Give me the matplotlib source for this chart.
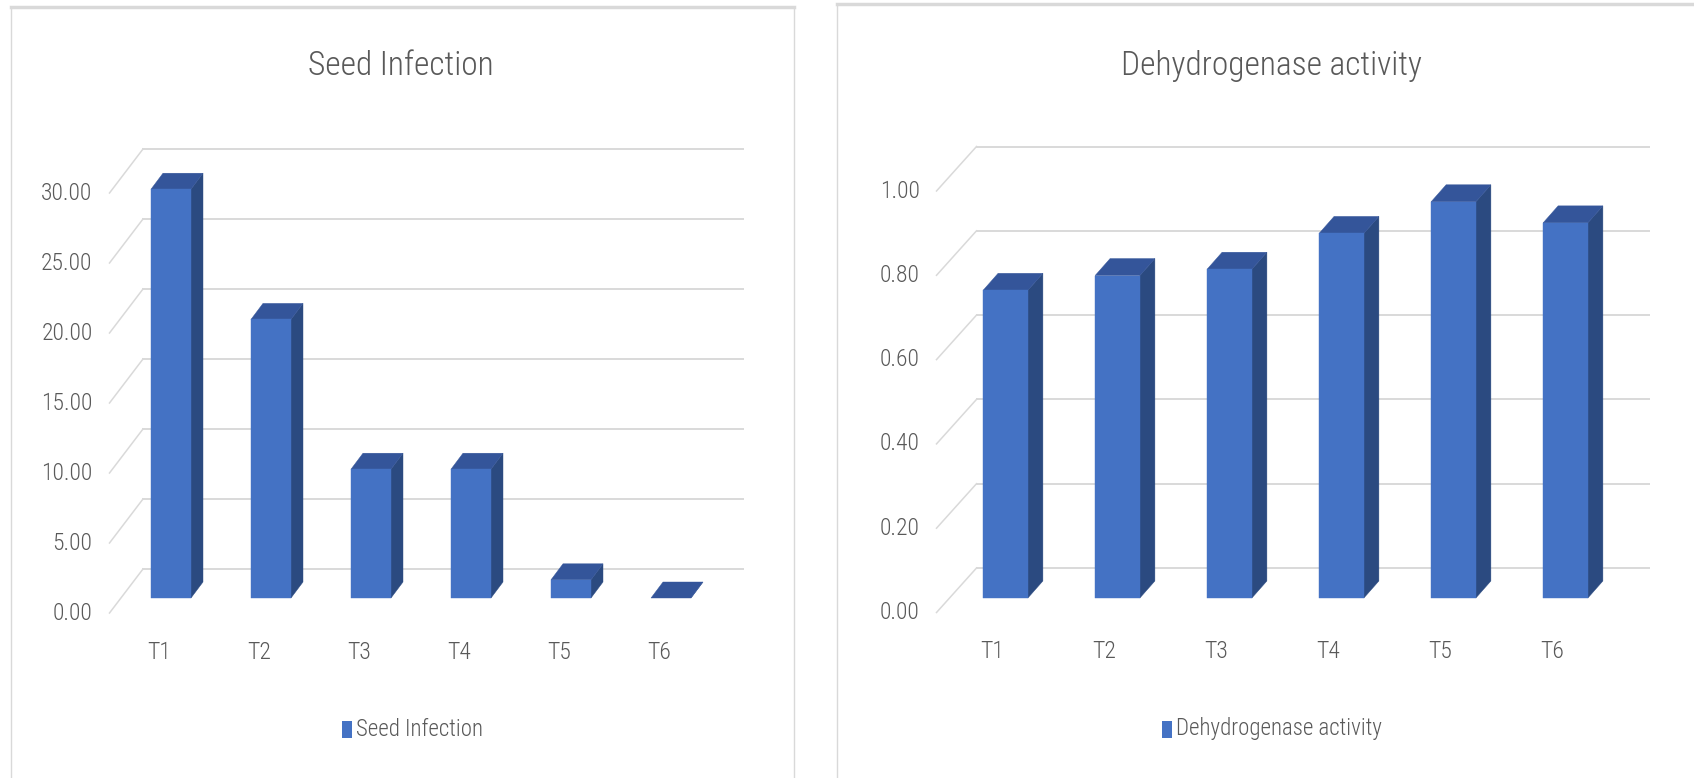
import os
import matplotlib
matplotlib.use('Agg')
import matplotlib.pyplot as plt
from matplotlib.patches import Polygon, Rectangle
from matplotlib import font_manager as fm

# Data
categories = ['T1', 'T2', 'T3', 'T4', 'T5', 'T6']
seed_infection = [29.2, 19.9, 9.2, 9.2, 1.3, 0.0]
dehydrogenase = [0.73, 0.765, 0.78, 0.865, 0.94, 0.89]
seed_ticks = [0, 5, 10, 15, 20, 25, 30]
dehyd_ticks = [0.0, 0.2, 0.4, 0.6, 0.8, 1.0]

W, H = 1694, 778
DPI = 100

FRONT = '#4472C4'
TOP = '#34559A'
SIDE = '#2B4A80'
GRID = '#D9D9D9'
TEXT = '#595959'


def pick_font():
    # a condensed face comes closest to the squeezed Calibri in the screenshot
    files = {}
    for f in fm.fontManager.ttflist:
        files[os.path.splitext(os.path.basename(f.fname))[0]] = f.fname
    for name in ['LiberationSansNarrow-Regular', 'NotoSans-CondensedLight',
                 'NotoSans-Condensed', 'RobotoCondensed-Light', 'RobotoCondensed-Regular',
                 'OpenSans-CondensedLight', 'OpenSansCondensed-Light']:
        if name in files:
            return files[name], 1.0
    return None, 0.78


font_file, size_k = pick_font()


def fp(size):
    if font_file:
        return fm.FontProperties(fname=font_file, size=size * size_k)
    return fm.FontProperties(family=['Noto Sans', 'DejaVu Sans'], size=size * size_k)


def panel(fig, box, x0, xstep, y0, yscale, values, ticks, fmt, title, title_x,
          wall, front, depth, legend_x, label):
    L, R, T, B = box
    ax = fig.add_axes([L / W, 1 - B / H, (R - L) / W, (B - T) / H])
    ax.set_xlim((L - x0) / xstep, (R - x0) / xstep)
    ax.set_ylim((y0 - B) / yscale, (y0 - T) / yscale)
    ax.axis('off')

    # pixel offsets -> data units
    wdx, wdy = wall[0] / xstep, wall[1] / yscale
    fdx, fdy = front[0] / xstep, front[1] / yscale
    bdx, bdy = depth[0] / xstep, depth[1] / yscale
    n = len(values)
    xl, xr = -0.5, n - 0.5

    # back wall gridlines and the floor-side diagonals
    for t in ticks:
        ax.plot([xl + wdx, xr + wdx], [t + wdy, t + wdy], color=GRID, lw=1.4, zorder=1)
        ax.plot([xl + fdx, xl + wdx], [t + fdy, t + wdy], color=GRID, lw=1.1, zorder=1)
        ax.text(xl + fdx - 17 / xstep, t + fdy, fmt.format(t), ha='right', va='center',
                color=TEXT, fontproperties=fp(17))

    # columns: front face, right side, top
    bw = 0.4
    for i, v in enumerate(values):
        xa = i - bw / 2
        xb = i + bw / 2
        ax.add_patch(Polygon([(xb, 0), (xb + bdx, bdy), (xb + bdx, v + bdy), (xb, v)],
                             facecolor=SIDE, edgecolor=SIDE, lw=0.3, zorder=3))
        ax.add_patch(Polygon([(xa, v), (xb, v), (xb + bdx, v + bdy), (xa + bdx, v + bdy)],
                             facecolor=TOP, edgecolor=TOP, lw=0.3, zorder=3))
        if v > 0:
            ax.add_patch(Rectangle((xa, 0), bw, v, facecolor=FRONT, edgecolor=FRONT,
                                   lw=0.3, zorder=4))

    # category labels sit on the front edge of the floor
    ylab = (y0 - 652) / yscale
    for i, c in enumerate(categories):
        ax.text(i + fdx, ylab, c, ha='center', va='center', color=TEXT,
                fontproperties=fp(17))

    # panel frame
    ax.add_patch(Rectangle((0, 0), 1, 1, transform=ax.transAxes, fill=False,
                           edgecolor=GRID, lw=1.0, clip_on=False, zorder=0))
    ax.plot([0, 1], [1, 1], transform=ax.transAxes, color=GRID, lw=2.5,
            clip_on=False, zorder=0)

    # title and legend
    fig.text(title_x / W, 1 - 66 / H, title, ha='center', va='center', color=TEXT,
             fontproperties=fp(24))
    fig.add_artist(Rectangle((legend_x / W, 1 - 738 / H), 10 / W, 17 / H,
                             transform=fig.transFigure, facecolor=FRONT, edgecolor='none'))
    fig.text((legend_x + 14) / W, 1 - 729 / H, label, ha='left', va='center', color=TEXT,
             fontproperties=fp(16.5))
    return ax


fig = plt.figure(figsize=(W / DPI, H / DPI), dpi=DPI)
fig.patch.set_facecolor('white')

panel(fig, (11, 794, 7, 792), 171, 100, 598, 14.0, seed_infection, seed_ticks, '{:.2f}',
      'Seed Infection', 401, (22, 29), (-11.5, -15), (12, 16), 342, 'Seed Infection')
panel(fig, (837, 1705, 4, 792), 1005.5, 112, 598, 421.5, dehydrogenase, dehyd_ticks, '{:.2f}',
      'Dehydrogenase activity', 1271, (27, 30), (-13, -14.5), (15, 17), 1162,
      'Dehydrogenase activity')

fig.savefig('out.png', dpi=DPI)
